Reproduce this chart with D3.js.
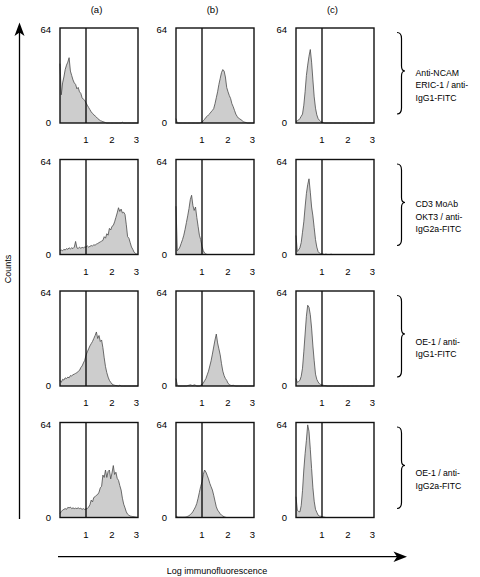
<!DOCTYPE html>
<html><head><meta charset="utf-8">
<script src="https://cdn.jsdelivr.net/npm/d3@7"></script>
<style>body{margin:0;background:#fff}svg{display:block;font-family:"Liberation Sans",Arial,Helvetica,sans-serif}</style>
</head><body><svg id="chart" width="480" height="577"></svg>
<script>
// ---- data ----
const columnLabels = ["(a)", "(b)", "(c)"];
const rowLabels = [
  ["Anti-NCAM", "ERIC-1 / anti-", "IgG1-FITC"],
  ["CD3 MoAb", "OKT3 / anti-", "IgG2a-FITC"],
  ["OE-1 / anti-", "IgG1-FITC"],
  ["OE-1 / anti-", "IgG2a-FITC"]
];
const xTickValues = [1, 2, 3];
const yTickLabels = ["0", "64"];
const yMax = 64;
const logBins = [0,0.05,0.1,0.15,0.2,0.25,0.3,0.35,0.4,0.45,0.5,0.55,0.6,0.65,0.7,0.75,0.8,0.85,0.9,0.95,
  1,1.05,1.1,1.15,1.2,1.25,1.3,1.35,1.4,1.45,1.5,1.55,1.6,1.65,1.7,1.75,1.8,1.85,1.9,1.95,
  2,2.05,2.1,2.15,2.2,2.25,2.3,2.35,2.4,2.45,2.5,2.55,2.6,2.65,2.7,2.75,2.8,2.85,2.9,2.95,3];

const countsA1 = [40,19,27,31,36,39,41,44,35,32, 29,27,26,23,24,21,20,17,16,15.3, 13.5,12,10.5,9,7.5,6.5,5.5,4.8,4,3, 2.3,1.6,1.3,0.9,0.6,0.3,0,0,0,0, 0,0,0,0,0,0,0,0,0.5,0, 0,0,0,0,0,0,0,0,0,0, 0];
const countsB1 = [3,0,0,0,0,0,0,0,0,0, 0,0,0,0,0,0,0,0,0,0.3, 0.5,1.5,2.5,3.8,4.5,5.5,6.3,7.5,8.5,9.7, 13,17,21,26,30,34,36,35,31,24, 21,18.5,16.5,13,11,8.5,6,4.5,3.3,2.8, 2.2,1.5,0.8,0.5,0.3,0,0,0,0,0, 0];
const countsC1 = [1,1.5,2,3,4.5,6,12,21,32,39, 45,49.5,41,29,17.6,10,5.5,3,1.8,1, 0.5,0.3,0,0,0,0,0,0,0,0, 0,0,0,0,0,0,0,0,0,0, 0,0,0,0,0,0,0,0,0,0, 0,0,0,0,0,0,0,0,0,0, 0];
const countsA2 = [2.7,3,2.5,3.5,3,4,3.5,4.5,3.8,4.5, 4,5,8.8,4.5,4,5,4.2,4.8,4.5,5, 5,5.8,5,5.5,6,5.8,6.5,6.3,7,7.4, 8,8.5,9,9.5,12,11,14,13,17.6,16.5, 19,19.6,22,25,28,31.5,29,30.6,28,28.5, 27,20,12,11,8,5,3.5,1.5,0.8,0.3, 0];
const countsB2 = [32.5,2.5,3.5,5,7.5,10,13,17,21.5,26, 31,37,39.9,33,29.7,32,25,19,13,10, 5.5,2.5,1,0.3,0,0,0,0,0,0, 0,0,0,0,0,0,0,0,0,0, 0,0,0,0,0,0,0,0,0,0, 0,0,0,0,0,0,0,0,0,0, 0];
const countsC2 = [12.8,2,3,4.5,8,15,22,32,41,47, 51,42,32,26,18,10,5,2,1,0.5, 0.3,0.2,0,0.3,0,0,0,0.2,0,0, 0,0,0,0,0,0,0,0,0,0, 0,0,0,0,0,0,0,0,0,0, 0,0,0,0,0,0,0,0,0,0, 0];
const countsA3 = [3.8,2.5,4.5,4,5.5,5,6,5.5,7,6.8, 7.6,8,8.5,9,9.8,10.5,12.4,13.5,15.5,17.3, 20.7,23,25,27,28.5,30,32,34,36.4,32, 34,30,31,25.8,19,13,9,6,3.8,2.5, 1.3,0.8,0.5,0.3,0.2,0,0.5,0,0,0, 0,0,0,0,0,0,0,0,0,0, 0];
const countsB3 = [5,0.5,0,0,0,0,0,0,0,0.3, 0.5,0.8,0.5,0.3,0.8,0.5,0,0,0,0.5, 1,2,3.5,5,7.5,10,13.5,17,21.5,26.3, 31,35,29,25,21,15,10,7,5,3.8, 1.8,1,0.5,0.3,0.5,0.2,0,0,0,0, 0,0,0,0,0,0,0,0,0,0, 0];
const countsC3 = [5,2.5,3,3.8,6.5,12,23,35,47,54.4, 53,48,39,27,17,8,4.5,2.7,1.5,1, 0.6,0.5,0.3,0.2,0,0,0,0,0,0, 0,0,0,0,0,0,0,0,0,0, 0,0,0,0,0,0,0,0,0,0, 0,0,0,0,0,0,0,0,0,0, 0];
const countsA4 = [2.7,4,5,5.5,6,5.5,6.8,6.5,7,6, 6.5,6,6.3,6,6.5,6,6.2,5.5,6,5.4, 5.8,6,7,8.5,11.7,10.5,13.5,14,15,15.5, 17,20,21,28.6,27,32,27,31,32,26, 30,35,29,30.5,26.4,25,21.5,18.5,13,9, 6.5,3.8,2.2,1.5,1,0.8,0.6,0.5,0.4,0.2, 0];
const countsB4 = [1,0.5,0.3,0.3,0.3,0.3,0.3,0.3,0.5,0.8, 1.2,2,2.7,4,5.5,7.2,9.5,13,17,21, 24,29,32,30.6,28.4,26,23,20.7,18.5,15, 11,7.2,5,3.8,2.5,1.6,1,0.5,0.2,0, 0,0,0,0,0,0,0,0,0,0, 0,0,0,0,0,0,0,0,0,0, 0];
const countsC4 = [14,5,4,3.8,8,18,32,43,52,62.4, 58,46,33,20,11,5.5,3.5,1.6,1,0.8, 0.5,0.4,0.2,0,0,0,0,0,0,0, 0,0,0,0,0,0,0,0,0,0, 0,0,0,0,0,0,0,0,0,0, 0,0,0,0,0,0,0,0,0,0, 0];

const panels = [
  [countsA1, countsB1, countsC1],
  [countsA2, countsB2, countsC2],
  [countsA3, countsB3, countsC3],
  [countsA4, countsB4, countsC4]
];

// ---- layout ----
const svg = d3.select("#chart");
const colX = [60, 176, 296], panelW = 78;
const rowY = [28, 159.5, 291, 422.5], panelH = 95;
const FILL = "#cdcdcd", OUT = "#4a4a4a";

panels.forEach((row, r) => {
  const top = rowY[r], bottom = top + panelH;
  row.forEach((counts, c) => {
    const left = colX[c];
    const x = d3.scaleLinear().domain([0, 3]).range([left, left + panelW]);
    const y = d3.scaleLinear().domain([0, yMax]).range([bottom, top]);
    const pts = logBins.map((b, i) => [b, counts[i]]);
    const g = svg.append("g");
    g.append("path").datum(pts)
      .attr("d", d3.area().x(d => x(d[0])).y0(y(0)).y1(d => y(d[1])))
      .attr("fill", FILL);
    g.append("path").datum(pts)
      .attr("d", d3.line().x(d => x(d[0])).y(d => y(d[1])))
      .attr("fill", "none").attr("stroke", OUT).attr("stroke-width", 0.8);
    g.append("line").attr("x1", x(1)).attr("x2", x(1)).attr("y1", top).attr("y2", bottom)
      .attr("stroke", "#000").attr("stroke-width", 1.3);
    g.append("rect").attr("x", left).attr("y", top).attr("width", panelW).attr("height", panelH)
      .attr("fill", "none").attr("stroke", "#111").attr("stroke-width", 1.4);
    // x tick labels
    g.selectAll(".xt").data(xTickValues).enter().append("text")
      .attr("x", d => x(d) - (d === 3 ? 1.5 : 0)).attr("y", bottom + 17).attr("dy", "0.35em")
      .attr("text-anchor", "middle").attr("font-size", 9.5).text(d => d);
    // y tick labels
    g.append("text").attr("x", left - 9).attr("y", y(yMax) + 2).attr("dy", "0.35em")
      .attr("text-anchor", "end").attr("font-size", 9.5).text(yTickLabels[1]);
    g.append("text").attr("x", left - 9).attr("y", y(0)).attr("dy", "0.35em")
      .attr("text-anchor", "end").attr("font-size", 9.5).text(yTickLabels[0]);
  });
  // brace
  const x0 = 397, xs = 401.5, xt = 405;
  const y1 = top + 4.5, ym = top + 43, y2 = top + 86;
  svg.append("path")
    .attr("d", `M${x0},${y1} Q${xs},${y1} ${xs},${y1 + 6} L${xs},${ym - 5} Q${xs},${ym} ${xt},${ym} Q${xs},${ym} ${xs},${ym + 5} L${xs},${y2 - 6} Q${xs},${y2} ${x0},${y2}`)
    .attr("fill", "none").attr("stroke", "#000").attr("stroke-width", 1.2);
  const lines = rowLabels[r];
  const lh = 12.5, cy = top + 57;
  lines.forEach((t, i) => {
    svg.append("text").attr("x", 415.5).attr("y", cy + (i - (lines.length - 1) / 2) * lh)
      .attr("dy", "0.35em").attr("font-size", 8.7).text(t);
  });
});

// column headers
columnLabels.forEach((t, c) => {
  svg.append("text").attr("x", colX[c] + panelW / 2 - 2.5).attr("y", 10).attr("dy", "0.35em")
    .attr("text-anchor", "middle").attr("font-size", 9.5).text(t);
});

// y axis arrow
svg.append("line").attr("x1", 19.5).attr("x2", 19.5).attr("y1", 519).attr("y2", 30)
  .attr("stroke", "#000").attr("stroke-width", 1.3);
svg.append("path").attr("d", "M19.5,22.5 L24.5,36 L19.5,32.5 L14.5,36 Z").attr("fill", "#000");
svg.append("text").attr("transform", "translate(8,269) rotate(-90)").attr("dy", "0.35em")
  .attr("text-anchor", "middle").attr("font-size", 9).text("Counts");

// x axis arrow
svg.append("line").attr("x1", 58).attr("x2", 400).attr("y1", 556.7).attr("y2", 556.7)
  .attr("stroke", "#000").attr("stroke-width", 1.3);
svg.append("path").attr("d", "M407,556.7 L393.5,551.5 L397,556.7 L393.5,562 Z").attr("fill", "#000");
svg.append("text").attr("x", 217).attr("y", 571).attr("dy", "0.35em")
  .attr("text-anchor", "middle").attr("font-size", 9).text("Log immunofluorescence");
</script></body></html>
